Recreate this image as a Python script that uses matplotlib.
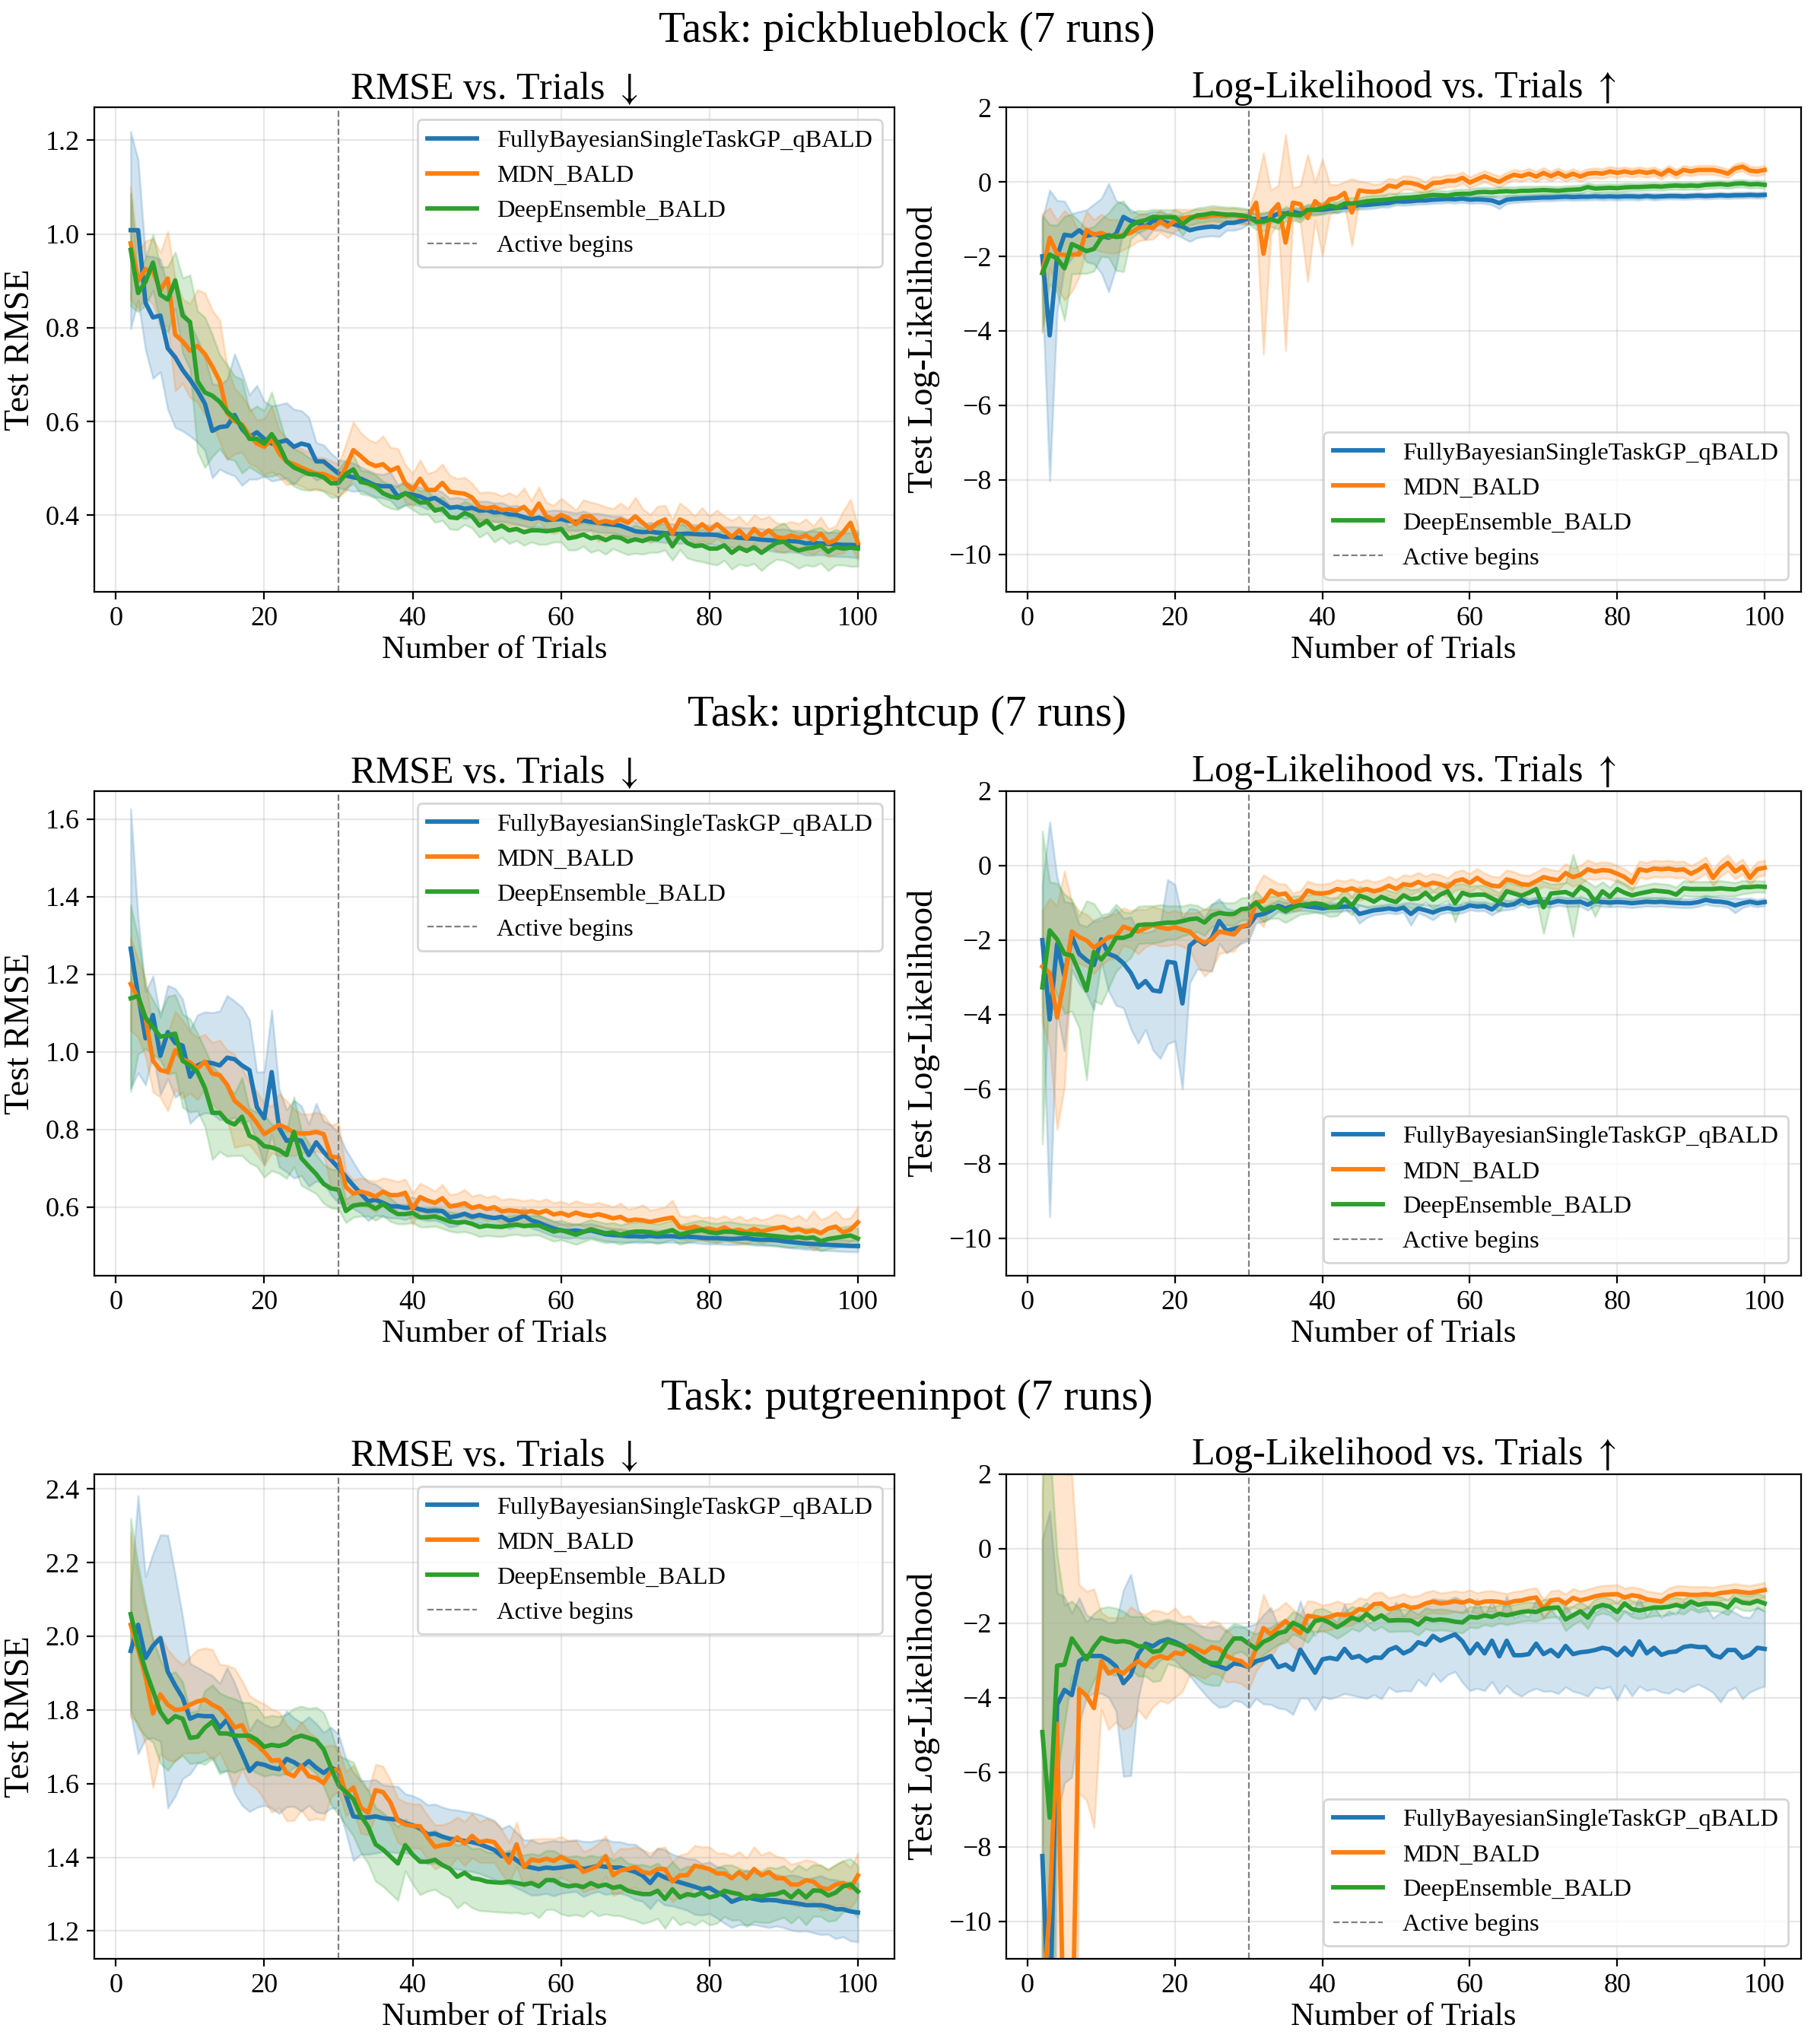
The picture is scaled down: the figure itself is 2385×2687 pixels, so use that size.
import numpy as np
import matplotlib
matplotlib.use("Agg")
import matplotlib.pyplot as plt

plt.rcParams['font.family'] = ['Liberation Serif', 'DejaVu Serif']
plt.rcParams['mathtext.fontset'] = 'stix'

trials = list(range(2, 101))
methods = ["FullyBayesianSingleTaskGP_qBALD", "MDN_BALD", "DeepEnsemble_BALD"]
colors = ["tab:blue", "tab:orange", "tab:green"]
tasks = ["pickblueblock", "uprightcup", "putgreeninpot"]
n_runs = 7
active_start = 30

# ---------------- pickblueblock : RMSE ----------------
pick_rmse_gp = [1.008, 1.008, 0.853, 0.822, 0.826, 0.756, 0.737, 0.710, 0.689, 0.666,
                0.638, 0.580, 0.588, 0.590, 0.614, 0.584, 0.567, 0.577, 0.563, 0.553,
                0.556, 0.560, 0.546, 0.553, 0.549, 0.515, 0.515, 0.502, 0.489, 0.485,
                0.481, 0.478, 0.471, 0.464, 0.462, 0.462, 0.440, 0.447, 0.444, 0.440,
                0.433, 0.437, 0.427, 0.416, 0.418, 0.414, 0.416, 0.410, 0.411, 0.406,
                0.407, 0.402, 0.401, 0.396, 0.392, 0.395, 0.390, 0.391, 0.392, 0.388,
                0.386, 0.389, 0.386, 0.384, 0.382, 0.380, 0.378, 0.372, 0.366, 0.364,
                0.365, 0.363, 0.362, 0.361, 0.360, 0.361, 0.360, 0.359, 0.359, 0.358,
                0.354, 0.354, 0.352, 0.351, 0.350, 0.348, 0.347, 0.346, 0.346, 0.345,
                0.344, 0.340, 0.341, 0.340, 0.339, 0.338, 0.337, 0.337, 0.336]
pick_rmse_gp_sd = [.21, .15, .10, .13, .12, .13, .15, .13, .12, .11,
                   .10, .10, .09, .10, .13, .12, .09, .10, .08, .08,
                   .08, .08, .08, .07, .06, .04, .035, .03, .03, .03,
                   .03, .025, .025, .025, .025, .03, .025, .025, .02, .02,
                   .02, .02, .022, .02, .02, .021, .02, .02, .019, .02,
                   .02, .018, .02, .019, .018, .02, .019, .02, .018, .02,
                   .019, .02, .018, .02, .019, .018, .02, .019, .02, .018,
                   .02, .019, .02, .021, .02, .019, .02, .021, .02, .022,
                   .021, .022, .023, .022, .024, .023, .022, .024, .025, .023,
                   .024, .025, .026, .024, .025, .026, .025, .026, .027]
pick_rmse_mdn = [0.980, 0.900, 0.925, 0.920, 0.880, 0.905, 0.785, 0.771, 0.751, 0.761,
                 0.744, 0.717, 0.686, 0.618, 0.601, 0.594, 0.570, 0.553, 0.546, 0.563,
                 0.532, 0.515, 0.509, 0.502, 0.495, 0.489, 0.488, 0.481, 0.474, 0.502,
                 0.539, 0.526, 0.512, 0.505, 0.509, 0.495, 0.502, 0.468, 0.454, 0.478,
                 0.454, 0.454, 0.469, 0.450, 0.448, 0.446, 0.438, 0.418, 0.415, 0.418,
                 0.411, 0.413, 0.410, 0.418, 0.401, 0.425, 0.398, 0.391, 0.401, 0.394,
                 0.381, 0.398, 0.398, 0.384, 0.388, 0.384, 0.391, 0.384, 0.398, 0.384,
                 0.371, 0.384, 0.391, 0.361, 0.391, 0.384, 0.368, 0.381, 0.368, 0.381,
                 0.368, 0.354, 0.368, 0.351, 0.371, 0.357, 0.368, 0.354, 0.351, 0.357,
                 0.352, 0.357, 0.347, 0.361, 0.341, 0.347, 0.364, 0.384, 0.341]
pick_rmse_mdn_sd = [.12, .06, .06, .07, .08, .10, .12, .09, .10, .12,
                    .13, .12, .13, .10, .07, .06, .06, .05, .06, .07,
                    .05, .05, .04, .04, .04, .035, .035, .035, .035, .05,
                    .06, .05, .05, .05, .06, .05, .04, .04, .035, .04,
                    .035, .04, .04, .035, .03, .035, .03, .03, .035, .03,
                    .03, .035, .03, .04, .03, .035, .03, .03, .035, .03,
                    .03, .035, .03, .04, .03, .03, .035, .03, .04, .03,
                    .03, .035, .03, .03, .035, .03, .03, .035, .03, .03,
                    .03, .035, .03, .03, .03, .035, .03, .03, .03, .03,
                    .03, .035, .03, .035, .03, .03, .045, .05, .035]
pick_rmse_de = [0.966, 0.874, 0.898, 0.939, 0.870, 0.860, 0.901, 0.826, 0.812, 0.686,
                0.662, 0.655, 0.642, 0.621, 0.607, 0.590, 0.563, 0.563, 0.553, 0.573,
                0.549, 0.515, 0.502, 0.495, 0.488, 0.487, 0.481, 0.468, 0.469, 0.488,
                0.498, 0.471, 0.468, 0.461, 0.447, 0.440, 0.437, 0.447, 0.437, 0.427,
                0.428, 0.410, 0.414, 0.396, 0.394, 0.405, 0.398, 0.378, 0.388, 0.371,
                0.378, 0.368, 0.371, 0.364, 0.368, 0.368, 0.366, 0.368, 0.371, 0.351,
                0.354, 0.359, 0.351, 0.354, 0.347, 0.354, 0.352, 0.344, 0.349, 0.345,
                0.351, 0.349, 0.361, 0.334, 0.357, 0.341, 0.334, 0.336, 0.329, 0.329,
                0.336, 0.320, 0.331, 0.324, 0.332, 0.320, 0.331, 0.341, 0.344, 0.332,
                0.325, 0.329, 0.331, 0.336, 0.322, 0.332, 0.329, 0.331, 0.329]
pick_rmse_de_sd = [.12, .04, .05, .06, .06, .07, .06, .08, .10, .15,
                   .16, .13, .10, .10, .09, .10, .06, .07, .07, .09,
                   .06, .04, .04, .04, .035, .03, .03, .03, .03, .03,
                   .03, .025, .025, .025, .025, .025, .025, .025, .025, .025,
                   .025, .025, .025, .025, .025, .025, .025, .025, .025, .028,
                   .025, .028, .025, .028, .025, .03, .028, .025, .028, .025,
                   .028, .025, .03, .028, .03, .025, .03, .028, .03, .028,
                   .03, .028, .035, .03, .03, .032, .03, .035, .032, .035,
                   .032, .035, .035, .032, .035, .038, .035, .035, .04, .035,
                   .038, .035, .04, .038, .04, .038, .035, .04, .038]

# ---------------- pickblueblock : log-likelihood ----------------
pick_ll_gp = [-2.00, -4.12, -2.00, -1.42, -1.45, -1.30, -1.45, -1.40, -1.45, -1.50,
              -1.40, -0.94, -1.05, -1.10, -1.20, -1.05, -1.05, -1.10, -1.15, -1.20,
              -1.30, -1.25, -1.22, -1.20, -1.22, -1.10, -1.10, -1.05, -0.98, -1.00,
              -1.00, -0.95, -0.85, -0.85, -0.80, -0.85, -0.75, -0.75, -0.75, -0.72,
              -0.70, -0.68, -0.66, -0.62, -0.62, -0.60, -0.58, -0.57, -0.52, -0.53,
              -0.52, -0.50, -0.50, -0.48, -0.47, -0.46, -0.47, -0.45, -0.48, -0.47,
              -0.48, -0.50, -0.57, -0.48, -0.46, -0.45, -0.44, -0.43, -0.42, -0.42,
              -0.41, -0.40, -0.41, -0.40, -0.40, -0.39, -0.40, -0.39, -0.40, -0.39,
              -0.39, -0.40, -0.38, -0.40, -0.39, -0.38, -0.38, -0.39, -0.38, -0.37,
              -0.38, -0.37, -0.36, -0.37, -0.36, -0.36, -0.35, -0.36, -0.35]
pick_ll_gp_sd = [1.0, 3.9, 1.5, 0.9, 0.6, 0.5, 0.7, 0.8, 1.0, 1.45,
                 0.9, 0.35, 0.3, 0.25, 0.35, 0.25, 0.25, 0.25, 0.25, 0.3,
                 0.3, 0.25, 0.25, 0.25, 0.25, 0.2, 0.2, 0.2, 0.15, 0.15,
                 0.15, 0.15, 0.15, 0.12, 0.12, 0.15, 0.12, 0.12, 0.12, 0.12,
                 0.12, 0.12, 0.11, 0.12, 0.11, 0.11, 0.1, 0.11, 0.1, 0.1,
                 0.1, 0.1, 0.1, 0.1, 0.1, 0.1, 0.1, 0.1, 0.1, 0.1,
                 0.1, 0.12, 0.15, 0.1, 0.1, 0.09, 0.09, 0.09, 0.09, 0.09,
                 0.09, 0.09, 0.09, 0.09, 0.09, 0.09, 0.09, 0.09, 0.09, 0.09,
                 0.09, 0.09, 0.08, 0.09, 0.08, 0.08, 0.08, 0.08, 0.08, 0.08,
                 0.08, 0.08, 0.08, 0.08, 0.08, 0.08, 0.08, 0.08, 0.08]
pick_ll_mdn = [-2.45, -1.50, -1.93, -1.97, -1.95, -1.95, -1.29, -1.42, -1.37, -1.46,
               -1.46, -1.42, -1.37, -1.24, -1.20, -1.24, -1.06, -1.20, -1.03, -0.99,
               -0.94, -0.94, -0.94, -0.90, -0.90, -0.92, -0.90, -0.94, -0.94, -0.56,
               -1.93, -0.82, -0.60, -1.63, -0.56, -0.60, -0.97, -0.52, -0.69, -0.47,
               -0.43, -0.30, -0.82, -0.23, -0.26, -0.27, -0.24, -0.10, -0.14, -0.02,
               -0.03, -0.08, -0.17, -0.03, -0.02, 0.03, 0.03, 0.11, -0.02, 0.07,
               0.15, 0.07, 0.00, 0.11, 0.19, 0.15, 0.22, 0.14, 0.24, 0.15,
               0.24, 0.14, 0.22, 0.14, 0.22, 0.24, 0.22, 0.28, 0.24, 0.28,
               0.24, 0.28, 0.24, 0.28, 0.19, 0.32, 0.21, 0.32, 0.28, 0.32,
               0.32, 0.32, 0.28, 0.22, 0.36, 0.41, 0.30, 0.28, 0.32]
pick_ll_mdn_sd = [1.6, 0.8, 0.9, 1.2, 1.0, 0.6, 0.5, 0.4, 0.5, 0.45,
                  0.45, 0.4, 0.35, 0.35, 0.35, 0.3, 0.3, 0.3, 0.3, 0.25,
                  0.2, 0.2, 0.2, 0.2, 0.2, 0.2, 0.2, 0.2, 0.2, 0.4,
                  2.7, 0.6, 0.5, 2.9, 0.4, 0.5, 1.7, 0.5, 1.3, 0.4,
                  0.35, 0.3, 0.9, 0.25, 0.25, 0.2, 0.2, 0.2, 0.2, 0.18,
                  0.18, 0.18, 0.17, 0.17, 0.16, 0.16, 0.16, 0.15, 0.15, 0.15,
                  0.15, 0.15, 0.15, 0.14, 0.14, 0.14, 0.14, 0.14, 0.14, 0.13,
                  0.13, 0.13, 0.13, 0.13, 0.13, 0.13, 0.13, 0.13, 0.13, 0.12,
                  0.12, 0.12, 0.12, 0.12, 0.12, 0.12, 0.12, 0.12, 0.12, 0.12,
                  0.12, 0.12, 0.12, 0.12, 0.12, 0.12, 0.12, 0.12, 0.12]
pick_ll_de = [-2.45, -1.95, -2.06, -2.32, -1.67, -1.76, -1.86, -1.80, -1.50, -1.43,
              -1.48, -1.46, -1.18, -1.07, -1.03, -0.94, -0.95, -0.95, -0.95, -1.14,
              -0.99, -0.90, -0.88, -0.84, -0.86, -0.88, -0.88, -0.90, -0.94, -1.07,
              -1.07, -1.00, -1.07, -0.86, -0.88, -0.90, -0.75, -0.75, -0.71, -0.64,
              -0.69, -0.58, -0.58, -0.56, -0.52, -0.50, -0.49, -0.47, -0.44, -0.43,
              -0.42, -0.40, -0.38, -0.35, -0.36, -0.37, -0.33, -0.32, -0.32, -0.28,
              -0.27, -0.28, -0.26, -0.25, -0.26, -0.24, -0.24, -0.23, -0.22, -0.23,
              -0.24, -0.22, -0.21, -0.20, -0.14, -0.18, -0.17, -0.16, -0.17, -0.15,
              -0.14, -0.14, -0.13, -0.12, -0.13, -0.11, -0.10, -0.11, -0.10, -0.11,
              -0.08, -0.07, -0.06, -0.08, -0.05, -0.04, -0.07, -0.06, -0.08]
pick_ll_de_sd = [1.55, 0.8, 0.9, 1.4, 0.8, 0.7, 0.6, 0.6, 0.5, 0.6,
                 0.9, 0.95, 0.35, 0.3, 0.25, 0.2, 0.2, 0.2, 0.2, 0.3,
                 0.2, 0.2, 0.2, 0.2, 0.2, 0.2, 0.2, 0.2, 0.2, 0.2,
                 0.25, 0.2, 0.2, 0.2, 0.15, 0.18, 0.15, 0.15, 0.15, 0.15,
                 0.15, 0.15, 0.15, 0.14, 0.14, 0.14, 0.14, 0.14, 0.13, 0.13,
                 0.13, 0.13, 0.13, 0.13, 0.12, 0.12, 0.12, 0.12, 0.12, 0.12,
                 0.12, 0.12, 0.12, 0.12, 0.12, 0.12, 0.12, 0.11, 0.11, 0.11,
                 0.11, 0.11, 0.11, 0.11, 0.11, 0.11, 0.11, 0.11, 0.11, 0.11,
                 0.1, 0.1, 0.1, 0.1, 0.1, 0.1, 0.1, 0.1, 0.1, 0.1,
                 0.1, 0.1, 0.1, 0.1, 0.1, 0.1, 0.1, 0.1, 0.1]

# ---------------- uprightcup : RMSE ----------------
cup_rmse_gp = [1.266, 1.146, 1.035, 1.095, 0.990, 1.051, 1.023, 1.016, 0.936, 0.965,
               0.973, 0.971, 0.965, 0.985, 0.981, 0.965, 0.953, 0.858, 0.829, 0.948,
               0.804, 0.771, 0.775, 0.771, 0.734, 0.767, 0.742, 0.722, 0.701, 0.678,
               0.656, 0.635, 0.615, 0.619, 0.611, 0.602, 0.602, 0.598, 0.600, 0.594,
               0.590, 0.591, 0.590, 0.574, 0.577, 0.583, 0.575, 0.580, 0.575, 0.572,
               0.575, 0.565, 0.570, 0.578, 0.566, 0.560, 0.552, 0.545, 0.540, 0.538,
               0.540, 0.537, 0.540, 0.535, 0.530, 0.528, 0.527, 0.525, 0.525, 0.524,
               0.526, 0.524, 0.525, 0.525, 0.523, 0.524, 0.523, 0.521, 0.520, 0.520,
               0.519, 0.518, 0.519, 0.520, 0.517, 0.516, 0.516, 0.515, 0.512, 0.510,
               0.508, 0.506, 0.505, 0.504, 0.503, 0.502, 0.501, 0.500, 0.500]
cup_rmse_gp_sd = [.36, .20, .12, .10, .10, .12, .14, .12, .12, .13,
                  .13, .13, .14, .16, .15, .15, .13, .09, .12, .16,
                  .10, .08, .10, .09, .08, .10, .08, .09, .09, .07,
                  .06, .05, .05, .04, .035, .03, .03, .03, .025, .025,
                  .025, .025, .03, .025, .025, .02, .02, .02, .02, .02,
                  .02, .02, .02, .02, .02, .02, .02, .02, .018, .018,
                  .018, .018, .018, .018, .017, .017, .017, .016, .016, .016,
                  .016, .016, .016, .016, .015, .015, .015, .015, .015, .015,
                  .015, .015, .015, .015, .015, .015, .015, .015, .015, .015,
                  .015, .015, .015, .015, .015, .015, .015, .015, .015]
cup_rmse_mdn = [1.175, 1.138, 1.088, 0.977, 0.953, 0.948, 1.004, 0.981, 0.973, 0.957,
                0.975, 0.944, 0.940, 0.915, 0.874, 0.858, 0.841, 0.817, 0.788, 0.800,
                0.812, 0.804, 0.792, 0.790, 0.790, 0.794, 0.788, 0.730, 0.728, 0.652,
                0.635, 0.640, 0.635, 0.627, 0.640, 0.631, 0.631, 0.637, 0.596, 0.626,
                0.617, 0.611, 0.623, 0.602, 0.605, 0.610, 0.598, 0.603, 0.595, 0.600,
                0.589, 0.592, 0.590, 0.586, 0.590, 0.585, 0.591, 0.581, 0.585, 0.578,
                0.586, 0.580, 0.577, 0.582, 0.577, 0.571, 0.575, 0.565, 0.568, 0.566,
                0.562, 0.566, 0.570, 0.573, 0.548, 0.545, 0.550, 0.543, 0.545, 0.540,
                0.548, 0.538, 0.542, 0.536, 0.544, 0.537, 0.542, 0.546, 0.549, 0.540,
                0.544, 0.536, 0.540, 0.533, 0.545, 0.550, 0.535, 0.542, 0.561]
cup_rmse_mdn_sd = [.12, .10, .10, .08, .07, .10, .10, .10, .08, .08,
                   .07, .08, .09, .09, .12, .10, .08, .08, .08, .06,
                   .08, .07, .06, .05, .05, .05, .05, .08, .09, .04,
                   .035, .035, .035, .04, .035, .04, .035, .035, .04, .035,
                   .035, .03, .035, .03, .03, .035, .03, .03, .03, .03,
                   .03, .03, .03, .03, .03, .03, .03, .03, .03, .03,
                   .03, .03, .03, .03, .03, .03, .035, .03, .03, .04,
                   .03, .03, .03, .045, .03, .03, .03, .03, .03, .03,
                   .03, .03, .035, .03, .03, .03, .03, .035, .03, .03,
                   .035, .03, .05, .035, .03, .04, .035, .03, .04]
cup_rmse_de = [1.138, 1.144, 1.088, 1.064, 1.039, 1.043, 1.047, 0.977, 0.965, 0.948,
               0.907, 0.843, 0.843, 0.821, 0.813, 0.833, 0.784, 0.775, 0.757, 0.754,
               0.747, 0.734, 0.794, 0.726, 0.705, 0.685, 0.660, 0.648, 0.645, 0.590,
               0.604, 0.607, 0.607, 0.596, 0.608, 0.593, 0.582, 0.582, 0.585, 0.574,
               0.574, 0.576, 0.570, 0.563, 0.560, 0.562, 0.557, 0.549, 0.552, 0.550,
               0.549, 0.553, 0.555, 0.551, 0.553, 0.553, 0.545, 0.537, 0.541, 0.535,
               0.529, 0.536, 0.543, 0.538, 0.533, 0.535, 0.529, 0.534, 0.537, 0.537,
               0.535, 0.531, 0.536, 0.541, 0.529, 0.534, 0.538, 0.541, 0.535, 0.533,
               0.537, 0.537, 0.533, 0.531, 0.530, 0.529, 0.527, 0.525, 0.523, 0.521,
               0.523, 0.520, 0.522, 0.512, 0.518, 0.521, 0.524, 0.527, 0.519]
cup_rmse_de_sd = [.24, .15, .08, .07, .06, .10, .10, .12, .12, .10,
                  .10, .12, .10, .09, .08, .10, .07, .07, .08, .06,
                  .06, .06, .09, .07, .06, .05, .05, .05, .05, .03,
                  .03, .03, .03, .03, .03, .03, .025, .025, .025, .025,
                  .025, .025, .025, .025, .025, .025, .025, .025, .025, .025,
                  .025, .025, .025, .025, .025, .025, .025, .025, .025, .025,
                  .025, .025, .025, .025, .025, .025, .025, .025, .025, .025,
                  .025, .025, .025, .025, .025, .025, .025, .025, .025, .025,
                  .025, .025, .025, .025, .025, .025, .025, .025, .025, .025,
                  .025, .025, .025, .025, .025, .025, .025, .025, .025]

# ---------------- uprightcup : log-likelihood ----------------
cup_ll_gp = [-2.00, -4.13, -2.11, -2.97, -1.90, -2.37, -2.54, -2.67, -1.98, -2.37,
             -2.45, -2.62, -2.88, -3.27, -3.10, -3.35, -3.38, -2.58, -2.61, -3.70,
             -2.15, -1.98, -2.11, -1.94, -1.49, -1.75, -1.70, -1.64, -1.61, -1.34,
             -1.30, -1.21, -1.08, -1.15, -1.08, -1.06, -1.10, -1.12, -1.15, -1.12,
             -1.12, -1.10, -1.10, -1.30, -1.25, -1.20, -1.18, -1.15, -1.18, -1.13,
             -1.30, -1.15, -1.20, -1.26, -1.18, -1.14, -1.18, -1.15, -1.07, -1.10,
             -1.09, -1.18, -1.01, -1.07, -1.04, -0.92, -1.01, -0.97, -0.98, -1.00,
             -0.95, -0.98, -0.98, -0.97, -1.05, -0.95, -0.98, -0.99, -0.98, -0.99,
             -1.01, -0.99, -0.97, -0.98, -0.97, -0.99, -1.00, -1.01, -1.01, -0.98,
             -0.92, -0.96, -0.97, -1.00, -1.07, -1.01, -0.97, -1.01, -0.98]
cup_ll_gp_sd = [1.5, 5.3, 1.8, 2.0, 0.9, 0.8, 0.9, 1.2, 0.6, 1.0,
                1.3, 1.2, 1.5, 1.5, 1.3, 1.6, 1.8, 2.2, 2.1, 2.3,
                1.0, 0.8, 0.7, 0.9, 0.6, 0.6, 0.5, 0.45, 0.4, 0.2,
                0.2, 0.18, 0.15, 0.15, 0.15, 0.15, 0.12, 0.12, 0.12, 0.12,
                0.12, 0.12, 0.12, 0.25, 0.15, 0.12, 0.12, 0.12, 0.12, 0.12,
                0.3, 0.12, 0.15, 0.2, 0.12, 0.12, 0.12, 0.12, 0.12, 0.12,
                0.12, 0.15, 0.2, 0.12, 0.12, 0.12, 0.12, 0.12, 0.12, 0.12,
                0.12, 0.12, 0.12, 0.12, 0.15, 0.12, 0.12, 0.12, 0.12, 0.12,
                0.12, 0.12, 0.12, 0.12, 0.12, 0.12, 0.12, 0.12, 0.12, 0.12,
                0.12, 0.12, 0.12, 0.12, 0.2, 0.12, 0.1, 0.1, 0.1]
cup_ll_mdn = [-2.71, -2.88, -4.08, -3.05, -1.77, -1.92, -2.01, -2.20, -2.07, -1.92,
              -1.90, -1.64, -1.71, -1.77, -1.68, -1.60, -1.66, -1.70, -1.66, -1.72,
              -1.77, -1.96, -2.07, -1.98, -1.77, -1.81, -1.85, -1.64, -1.58, -0.99,
              -0.95, -0.67, -0.78, -0.75, -0.99, -0.93, -0.67, -0.74, -0.75, -0.72,
              -0.63, -0.67, -0.61, -0.69, -0.63, -0.69, -0.64, -0.54, -0.63, -0.50,
              -0.53, -0.44, -0.53, -0.46, -0.50, -0.58, -0.42, -0.37, -0.47, -0.33,
              -0.46, -0.54, -0.56, -0.37, -0.42, -0.50, -0.52, -0.42, -0.31, -0.36,
              -0.39, -0.20, -0.31, -0.25, -0.10, -0.16, -0.12, -0.14, -0.22, -0.31,
              -0.46, -0.10, -0.14, -0.08, -0.10, -0.08, -0.12, -0.10, -0.22, -0.12,
              0.01, -0.33, -0.08, 0.07, -0.16, -0.03, -0.33, -0.10, -0.06]
cup_ll_mdn_sd = [1.5, 2.0, 3.0, 2.9, 0.8, 0.7, 0.7, 0.7, 0.6, 0.6,
                 0.6, 0.5, 0.5, 0.6, 0.5, 0.5, 0.5, 0.45, 0.45, 0.45,
                 0.5, 0.7, 0.9, 0.8, 0.6, 0.5, 0.45, 0.4, 0.35, 0.4,
                 0.7, 0.3, 0.3, 0.25, 0.25, 0.25, 0.25, 0.25, 0.25, 0.25,
                 0.25, 0.25, 0.25, 0.25, 0.25, 0.25, 0.25, 0.25, 0.25, 0.25,
                 0.25, 0.25, 0.25, 0.25, 0.25, 0.25, 0.25, 0.25, 0.25, 0.25,
                 0.25, 0.25, 0.25, 0.25, 0.25, 0.25, 0.25, 0.25, 0.25, 0.25,
                 0.25, 0.25, 0.25, 0.25, 0.25, 0.22, 0.22, 0.22, 0.22, 0.22,
                 0.22, 0.22, 0.22, 0.22, 0.22, 0.22, 0.22, 0.22, 0.22, 0.22,
                 0.22, 0.22, 0.22, 0.22, 0.2, 0.2, 0.2, 0.2, 0.2]
cup_ll_de = [-3.27, -1.74, -1.98, -2.37, -2.41, -2.86, -3.35, -2.32, -2.52, -2.28,
             -1.94, -1.94, -1.87, -1.60, -1.58, -1.58, -1.55, -1.53, -1.53, -1.49,
             -1.44, -1.42, -1.53, -1.34, -1.27, -1.30, -1.30, -1.17, -1.15, -0.99,
             -1.21, -1.12, -1.12, -1.23, -1.12, -1.06, -1.04, -1.01, -1.04, -1.12,
             -1.10, -0.89, -1.08, -0.81, -0.87, -0.97, -0.84, -0.92, -0.98, -0.80,
             -0.90, -0.88, -0.73, -0.92, -0.78, -0.69, -1.01, -0.73, -0.80, -0.78,
             -0.78, -0.88, -0.98, -0.69, -0.75, -0.81, -0.73, -0.63, -1.12, -0.75,
             -0.73, -0.71, -0.80, -0.57, -0.69, -0.97, -0.69, -0.84, -0.63, -0.73,
             -0.80, -0.75, -0.71, -0.67, -0.69, -0.71, -0.78, -0.61, -0.63, -0.63,
             -0.63, -0.63, -0.61, -0.63, -0.64, -0.58, -0.58, -0.56, -0.57]
cup_ll_de_sd = [4.2, 1.3, 1.5, 1.6, 1.5, 1.5, 2.4, 1.3, 1.2, 1.0,
                0.9, 0.7, 0.6, 0.5, 0.5, 0.5, 0.5, 0.45, 0.45, 0.4,
                0.4, 0.35, 0.35, 0.3, 0.3, 0.3, 0.3, 0.3, 0.3, 0.3,
                0.3, 0.3, 0.3, 0.3, 0.3, 0.25, 0.25, 0.25, 0.25, 0.25,
                0.25, 0.25, 0.25, 0.25, 0.25, 0.25, 0.25, 0.25, 0.25, 0.25,
                0.25, 0.25, 0.25, 0.25, 0.25, 0.25, 0.5, 0.25, 0.25, 0.25,
                0.25, 0.25, 0.25, 0.25, 0.25, 0.25, 0.25, 0.25, 0.7, 0.25,
                0.25, 0.25, 1.1, 0.25, 0.25, 0.4, 0.25, 0.25, 0.25, 0.25,
                0.2, 0.2, 0.2, 0.2, 0.2, 0.2, 0.2, 0.2, 0.2, 0.2,
                0.2, 0.2, 0.2, 0.2, 0.18, 0.18, 0.16, 0.15, 0.15]

# ---------------- putgreeninpot : RMSE ----------------
pot_rmse_gp = [1.960, 2.031, 1.941, 1.974, 1.995, 1.904, 1.866, 1.833, 1.776, 1.785,
               1.783, 1.783, 1.752, 1.774, 1.724, 1.681, 1.634, 1.655, 1.651, 1.643,
               1.639, 1.667, 1.658, 1.645, 1.661, 1.643, 1.629, 1.643, 1.634, 1.568,
               1.511, 1.508, 1.508, 1.511, 1.506, 1.504, 1.502, 1.492, 1.487, 1.478,
               1.462, 1.464, 1.456, 1.450, 1.448, 1.444, 1.441, 1.436, 1.428, 1.420,
               1.403, 1.407, 1.392, 1.377, 1.372, 1.368, 1.372, 1.370, 1.372, 1.375,
               1.377, 1.368, 1.372, 1.377, 1.374, 1.372, 1.372, 1.366, 1.360, 1.350,
               1.330, 1.355, 1.345, 1.338, 1.332, 1.326, 1.320, 1.313, 1.317, 1.305,
               1.296, 1.279, 1.287, 1.291, 1.287, 1.283, 1.284, 1.283, 1.279, 1.277,
               1.274, 1.270, 1.270, 1.270, 1.266, 1.259, 1.259, 1.253, 1.250]
pot_rmse_gp_sd = [.17, .35, .22, .25, .28, .37, .30, .22, .15, .13,
                  .12, .11, .12, .14, .15, .14, .11, .12, .11, .11,
                  .12, .13, .12, .12, .12, .12, .11, .11, .10, .10,
                  .12, .10, .10, .10, .09, .09, .09, .08, .08, .08,
                  .08, .08, .08, .08, .08, .08, .08, .08, .08, .08,
                  .075, .08, .075, .07, .075, .07, .07, .075, .07, .07,
                  .07, .075, .07, .07, .075, .07, .07, .07, .075, .07,
                  .07, .07, .075, .07, .07, .07, .075, .07, .07, .07,
                  .075, .07, .07, .075, .07, .07, .075, .07, .07, .075,
                  .075, .07, .075, .08, .075, .08, .075, .08, .08]
pot_rmse_mdn = [2.031, 1.965, 1.889, 1.790, 1.842, 1.814, 1.800, 1.802, 1.814, 1.823,
                1.828, 1.814, 1.804, 1.781, 1.752, 1.759, 1.719, 1.705, 1.686, 1.662,
                1.664, 1.629, 1.620, 1.648, 1.620, 1.615, 1.601, 1.634, 1.639, 1.573,
                1.589, 1.535, 1.521, 1.582, 1.577, 1.549, 1.500, 1.489, 1.485, 1.484,
                1.454, 1.428, 1.433, 1.435, 1.454, 1.437, 1.458, 1.441, 1.445, 1.441,
                1.415, 1.385, 1.435, 1.373, 1.394, 1.390, 1.396, 1.390, 1.401, 1.390,
                1.385, 1.360, 1.368, 1.377, 1.403, 1.351, 1.364, 1.368, 1.373, 1.360,
                1.356, 1.368, 1.368, 1.334, 1.351, 1.351, 1.377, 1.373, 1.368, 1.356,
                1.356, 1.343, 1.360, 1.343, 1.368, 1.351, 1.360, 1.343, 1.343, 1.326,
                1.326, 1.338, 1.334, 1.317, 1.313, 1.326, 1.330, 1.317, 1.351]
pot_rmse_mdn_sd = [.25, .20, .18, .20, .16, .15, .14, .12, .13, .14,
                   .14, .15, .12, .14, .16, .12, .12, .12, .13, .14,
                   .13, .13, .12, .12, .12, .11, .10, .07, .06, .06,
                   .06, .07, .06, .07, .07, .06, .06, .06, .06, .06,
                   .06, .06, .055, .06, .055, .06, .06, .055, .06, .055,
                   .06, .055, .06, .055, .055, .06, .055, .06, .055, .055,
                   .06, .055, .055, .06, .055, .055, .06, .055, .055, .06,
                   .055, .055, .06, .055, .055, .06, .055, .055, .06, .055,
                   .055, .06, .055, .055, .06, .055, .055, .06, .055, .055,
                   .06, .055, .055, .06, .055, .055, .06, .055, .06]
pot_rmse_de = [2.060, 1.974, 1.908, 1.852, 1.795, 1.766, 1.783, 1.776, 1.724, 1.727,
               1.752, 1.768, 1.736, 1.736, 1.730, 1.730, 1.730, 1.719, 1.700, 1.705,
               1.702, 1.708, 1.724, 1.730, 1.724, 1.717, 1.693, 1.643, 1.596, 1.577,
               1.558, 1.513, 1.483, 1.435, 1.421, 1.402, 1.383, 1.433, 1.407, 1.388,
               1.388, 1.393, 1.379, 1.369, 1.347, 1.358, 1.343, 1.340, 1.334, 1.332,
               1.331, 1.334, 1.330, 1.326, 1.330, 1.321, 1.338, 1.338, 1.326, 1.321,
               1.324, 1.319, 1.330, 1.321, 1.326, 1.317, 1.321, 1.309, 1.304, 1.300,
               1.300, 1.309, 1.287, 1.313, 1.291, 1.300, 1.296, 1.304, 1.291, 1.296,
               1.309, 1.304, 1.300, 1.287, 1.296, 1.293, 1.298, 1.300, 1.307, 1.291,
               1.309, 1.291, 1.310, 1.309, 1.296, 1.304, 1.321, 1.326, 1.307]
pot_rmse_de_sd = [.26, .22, .18, .14, .14, .13, .12, .10, .07, .07,
                  .10, .10, .11, .10, .10, .09, .09, .09, .08, .08,
                  .08, .08, .08, .08, .08, .09, .10, .10, .08, .09,
                  .10, .10, .10, .10, .10, .10, .10, .07, .08, .09,
                  .08, .08, .08, .08, .085, .08, .08, .085, .08, .08,
                  .08, .085, .08, .08, .08, .085, .08, .08, .08, .08,
                  .08, .08, .075, .08, .08, .075, .08, .075, .075, .08,
                  .075, .075, .08, .075, .075, .075, .08, .075, .075, .075,
                  .07, .075, .07, .075, .07, .07, .075, .07, .07, .07,
                  .07, .075, .07, .07, .07, .075, .07, .07, .07]

# ---------------- putgreeninpot : log-likelihood ----------------
pot_ll_gp = [-8.25, -13.0, -4.19, -3.79, -3.93, -3.02, -2.88, -2.88, -2.88, -2.99,
             -3.16, -3.61, -3.39, -2.83, -2.55, -2.62, -2.49, -2.43, -2.50, -2.60,
             -2.71, -2.86, -2.99, -3.11, -3.16, -3.23, -3.08, -3.11, -3.18, -3.02,
             -2.97, -2.88, -3.18, -3.11, -3.25, -2.71, -3.02, -3.33, -2.97, -2.93,
             -2.97, -2.69, -2.93, -2.88, -3.02, -2.92, -2.93, -2.72, -2.64, -2.81,
             -2.72, -2.51, -2.58, -2.34, -2.47, -2.38, -2.30, -2.49, -2.81, -2.55,
             -2.81, -2.47, -2.89, -2.47, -2.86, -2.86, -2.83, -2.55, -2.83, -2.72,
             -2.89, -2.61, -2.83, -2.78, -2.76, -2.72, -2.66, -2.70, -2.86, -2.66,
             -2.85, -2.49, -2.81, -2.66, -2.85, -2.78, -2.76, -2.64, -2.61, -2.64,
             -2.64, -2.86, -2.92, -2.72, -2.72, -2.93, -2.85, -2.66, -2.69]
pot_ll_gp_sd = [8.5, 14.0, 3.0, 2.5, 2.2, 1.7, 1.1, 1.0, 1.0, 1.0,
                1.2, 2.5, 2.7, 1.2, 0.6, 0.6, 0.5, 0.5, 0.5, 0.6,
                0.7, 0.8, 0.9, 1.0, 1.1, 1.0, 1.0, 1.0, 1.1, 1.0,
                1.2, 1.3, 1.1, 1.2, 1.2, 1.3, 1.0, 1.0, 1.0, 1.1,
                1.0, 1.2, 1.0, 1.1, 1.0, 1.0, 1.1, 1.0, 1.2, 1.0,
                1.1, 1.0, 1.1, 1.0, 1.1, 1.0, 1.0, 1.1, 1.0, 1.2,
                1.0, 1.1, 1.0, 1.2, 1.0, 1.1, 1.0, 1.2, 1.0, 1.1,
                1.0, 1.1, 1.0, 1.1, 1.2, 1.0, 1.1, 1.0, 1.2, 1.0,
                1.1, 1.2, 1.0, 1.1, 1.0, 1.1, 1.0, 1.2, 1.1, 1.0,
                1.1, 1.0, 1.2, 1.1, 1.0, 1.1, 1.0, 1.1, 1.0]
pot_ll_mdn = [-12.5, -9.65, -4.70, -14.0, -14.0, -3.77, -3.95, -4.28, -3.02, -3.35,
              -3.25, -3.35, -3.16, -3.02, -3.16, -2.95, -2.88, -2.95, -2.79, -2.83,
              -2.60, -2.69, -2.79, -2.64, -2.69, -2.88, -2.97, -3.02, -3.18, -2.69,
              -2.13, -2.30, -2.11, -1.94, -2.13, -2.27, -1.80, -1.83, -1.87, -1.83,
              -1.76, -1.78, -1.76, -1.62, -1.66, -1.49, -1.47, -1.62, -1.58, -1.51,
              -1.59, -1.56, -1.47, -1.42, -1.47, -1.45, -1.41, -1.45, -1.39, -1.47,
              -1.42, -1.41, -1.43, -1.47, -1.41, -1.39, -1.34, -1.31, -1.62, -1.39,
              -1.36, -1.47, -1.32, -1.39, -1.34, -1.28, -1.24, -1.23, -1.22, -1.31,
              -1.25, -1.28, -1.36, -1.39, -1.42, -1.28, -1.22, -1.22, -1.24, -1.24,
              -1.22, -1.24, -1.19, -1.17, -1.14, -1.17, -1.19, -1.15, -1.11]
pot_ll_mdn_sd = [14.0, 15.0, 8.0, 16.0, 16.0, 2.8, 2.8, 3.2, 1.3, 1.5,
                 1.4, 1.5, 1.6, 1.3, 1.4, 1.3, 1.2, 1.2, 1.2, 1.0,
                 0.8, 0.7, 0.7, 0.7, 0.7, 0.7, 0.6, 0.6, 0.6, 0.6,
                 0.9, 0.6, 0.5, 0.5, 0.5, 0.5, 0.4, 0.4, 0.35, 0.35,
                 0.35, 0.3, 0.3, 0.3, 0.3, 0.3, 0.3, 0.3, 0.3, 0.3,
                 0.3, 0.3, 0.3, 0.3, 0.28, 0.28, 0.28, 0.28, 0.28, 0.28,
                 0.28, 0.28, 0.26, 0.26, 0.26, 0.26, 0.26, 0.26, 0.26, 0.26,
                 0.25, 0.25, 0.25, 0.25, 0.25, 0.25, 0.25, 0.25, 0.25, 0.25,
                 0.22, 0.22, 0.22, 0.22, 0.22, 0.22, 0.22, 0.22, 0.22, 0.22,
                 0.2, 0.2, 0.2, 0.2, 0.2, 0.2, 0.2, 0.2, 0.2]
pot_ll_de = [-4.92, -7.22, -3.14, -3.11, -2.41, -2.69, -2.97, -2.64, -2.39, -2.46,
             -2.50, -2.48, -2.52, -2.62, -2.62, -2.77, -2.74, -2.49, -2.55, -2.62,
             -2.74, -2.88, -3.02, -3.07, -3.07, -2.67, -2.41, -2.41, -2.55, -2.69,
             -2.50, -2.41, -2.27, -2.22, -1.99, -2.08, -2.22, -1.94, -1.90, -1.99,
             -2.11, -1.99, -1.85, -1.92, -1.75, -1.90, -1.79, -1.93, -1.92, -1.92,
             -1.93, -2.04, -1.87, -1.92, -1.90, -1.92, -1.96, -1.98, -1.83, -1.85,
             -1.79, -1.83, -1.75, -1.79, -1.75, -1.70, -1.68, -1.70, -1.62, -1.59,
             -1.58, -1.90, -1.79, -1.68, -1.85, -1.58, -1.51, -1.56, -1.70, -1.47,
             -1.62, -1.66, -1.62, -1.58, -1.58, -1.56, -1.51, -1.56, -1.42, -1.51,
             -1.47, -1.47, -1.49, -1.58, -1.36, -1.45, -1.47, -1.40, -1.47]
pot_ll_de_sd = [8.0, 10.0, 3.0, 1.6, 1.0, 1.1, 1.0, 0.9, 0.8, 0.9,
                0.9, 0.8, 0.7, 0.8, 0.8, 0.8, 0.8, 0.6, 0.6, 0.6,
                0.6, 0.6, 0.6, 0.6, 0.6, 0.5, 0.4, 0.35, 0.35, 0.4,
                0.35, 0.3, 0.3, 0.3, 0.3, 0.3, 0.3, 0.3, 0.3, 0.3,
                0.3, 0.3, 0.3, 0.3, 0.3, 0.3, 0.3, 0.3, 0.3, 0.3,
                0.28, 0.28, 0.28, 0.28, 0.28, 0.28, 0.28, 0.28, 0.28, 0.28,
                0.25, 0.25, 0.25, 0.25, 0.25, 0.25, 0.25, 0.25, 0.25, 0.25,
                0.25, 0.3, 0.25, 0.25, 0.3, 0.22, 0.22, 0.22, 0.25, 0.22,
                0.22, 0.22, 0.22, 0.22, 0.22, 0.22, 0.2, 0.2, 0.2, 0.2,
                0.2, 0.2, 0.2, 0.2, 0.2, 0.2, 0.2, 0.2, 0.2]

rmse_data = [
    ([pick_rmse_gp, pick_rmse_mdn, pick_rmse_de], [pick_rmse_gp_sd, pick_rmse_mdn_sd, pick_rmse_de_sd]),
    ([cup_rmse_gp, cup_rmse_mdn, cup_rmse_de], [cup_rmse_gp_sd, cup_rmse_mdn_sd, cup_rmse_de_sd]),
    ([pot_rmse_gp, pot_rmse_mdn, pot_rmse_de], [pot_rmse_gp_sd, pot_rmse_mdn_sd, pot_rmse_de_sd]),
]
ll_data = [
    ([pick_ll_gp, pick_ll_mdn, pick_ll_de], [pick_ll_gp_sd, pick_ll_mdn_sd, pick_ll_de_sd]),
    ([cup_ll_gp, cup_ll_mdn, cup_ll_de], [cup_ll_gp_sd, cup_ll_mdn_sd, cup_ll_de_sd]),
    ([pot_ll_gp, pot_ll_mdn, pot_ll_de], [pot_ll_gp_sd, pot_ll_mdn_sd, pot_ll_de_sd]),
]
rmse_ylims = [(0.237, 1.27), (0.424, 1.672), (1.125, 2.44)]
ll_ylim = (-11, 2)


def draw_panel(ax, means, sds, title, ylabel, legend_loc):
    x = np.array(trials)
    for m, s, name, c in zip(means, sds, methods, colors):
        m = np.array(m)
        s = np.array(s)
        ax.plot(x, m, color=c, lw=2.1, label=name)
        ax.fill_between(x, m - s, m + s, color=c, alpha=0.2)
    ax.axvline(active_start, color='gray', ls='--', lw=0.8, label='Active begins')
    ax.set_title(title, fontsize=18, pad=4)
    ax.set_xlabel("Number of Trials", fontsize=15.5, labelpad=2)
    ax.set_ylabel(ylabel, fontsize=16.5)
    ax.tick_params(labelsize=13)
    ax.grid(True, alpha=0.3)
    ax.legend(loc=legend_loc, fontsize=11.7)
    ax.set_xlim(-2.9, 104.9)
    ax.set_xticks([0, 20, 40, 60, 80, 100])


fig = plt.figure(figsize=(11.925, 13.435), dpi=200)

row_tops = [0.9475, 0.6130, 0.2788]
row_title_y = [0.9846, 0.6502, 0.3157]
ax_h = 0.237

for i, task in enumerate(tasks):
    bottom = row_tops[i] - ax_h
    ax_l = fig.add_axes([0.052, bottom, 0.441, ax_h])
    ax_r = fig.add_axes([0.5547, bottom, 0.438, ax_h])

    means, sds = rmse_data[i]
    draw_panel(ax_l, means, sds, r"RMSE vs. Trials $\downarrow$", "Test RMSE", "upper right")
    ax_l.set_ylim(*rmse_ylims[i])

    means, sds = ll_data[i]
    draw_panel(ax_r, means, sds, r"Log-Likelihood vs. Trials $\uparrow$", "Test Log-Likelihood", "lower right")
    ax_r.set_ylim(*ll_ylim)
    ax_r.set_yticks([-10, -8, -6, -4, -2, 0, 2])

    fig.text(0.5, row_title_y[i], f"Task: {task} ({n_runs} runs)", ha='center', va='center', fontsize=20.5)

fig.savefig("out.png", dpi=200)
